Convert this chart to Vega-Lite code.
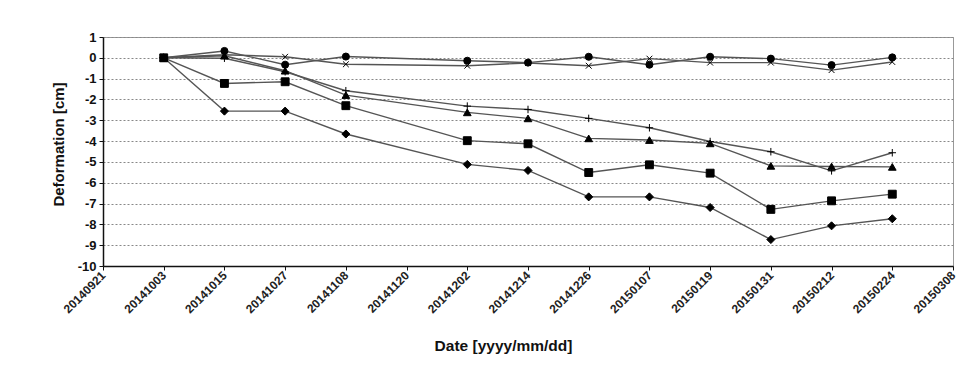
{
  "$schema": "https://vega.github.io/schema/vega-lite/v6.json",
  "autosize": "none",
  "width": 850,
  "height": 229,
  "padding": {"left": 103, "top": 37, "right": 11, "bottom": 99},
  "background": "white",
  "config": {
    "view": {"stroke": "#999999", "strokeWidth": 1},
    "font": "Liberation Sans"
  },
  "data": {
    "values": [
      {"date": "2014-10-03", "series": "S1", "value": 0},
      {"date": "2014-10-15", "series": "S1", "value": -2.56},
      {"date": "2014-10-27", "series": "S1", "value": -2.56},
      {"date": "2014-11-08", "series": "S1", "value": -3.66},
      {"date": "2014-12-02", "series": "S1", "value": -5.12},
      {"date": "2014-12-14", "series": "S1", "value": -5.41},
      {"date": "2014-12-26", "series": "S1", "value": -6.68},
      {"date": "2015-01-07", "series": "S1", "value": -6.68},
      {"date": "2015-01-19", "series": "S1", "value": -7.19},
      {"date": "2015-01-31", "series": "S1", "value": -8.73},
      {"date": "2015-02-12", "series": "S1", "value": -8.07},
      {"date": "2015-02-24", "series": "S1", "value": -7.73},

      {"date": "2014-10-03", "series": "S2", "value": 0},
      {"date": "2014-10-15", "series": "S2", "value": -1.23},
      {"date": "2014-10-27", "series": "S2", "value": -1.15},
      {"date": "2014-11-08", "series": "S2", "value": -2.3},
      {"date": "2014-12-02", "series": "S2", "value": -3.98},
      {"date": "2014-12-14", "series": "S2", "value": -4.13},
      {"date": "2014-12-26", "series": "S2", "value": -5.51},
      {"date": "2015-01-07", "series": "S2", "value": -5.14},
      {"date": "2015-01-19", "series": "S2", "value": -5.54},
      {"date": "2015-01-31", "series": "S2", "value": -7.28},
      {"date": "2015-02-12", "series": "S2", "value": -6.87},
      {"date": "2015-02-24", "series": "S2", "value": -6.55},

      {"date": "2014-10-03", "series": "S3", "value": 0},
      {"date": "2014-10-15", "series": "S3", "value": 0.1},
      {"date": "2014-10-27", "series": "S3", "value": -0.62},
      {"date": "2014-11-08", "series": "S3", "value": -1.79},
      {"date": "2014-12-02", "series": "S3", "value": -2.62},
      {"date": "2014-12-14", "series": "S3", "value": -2.91},
      {"date": "2014-12-26", "series": "S3", "value": -3.87},
      {"date": "2015-01-07", "series": "S3", "value": -3.95},
      {"date": "2015-01-19", "series": "S3", "value": -4.11},
      {"date": "2015-01-31", "series": "S3", "value": -5.19},
      {"date": "2015-02-12", "series": "S3", "value": -5.22},
      {"date": "2015-02-24", "series": "S3", "value": -5.24},

      {"date": "2014-10-03", "series": "S4", "value": 0},
      {"date": "2014-10-15", "series": "S4", "value": -0.02},
      {"date": "2014-10-27", "series": "S4", "value": -0.67},
      {"date": "2014-11-08", "series": "S4", "value": -1.58},
      {"date": "2014-12-02", "series": "S4", "value": -2.32},
      {"date": "2014-12-14", "series": "S4", "value": -2.48},
      {"date": "2014-12-26", "series": "S4", "value": -2.91},
      {"date": "2015-01-07", "series": "S4", "value": -3.36},
      {"date": "2015-01-19", "series": "S4", "value": -4.02},
      {"date": "2015-01-31", "series": "S4", "value": -4.51},
      {"date": "2015-02-12", "series": "S4", "value": -5.43},
      {"date": "2015-02-24", "series": "S4", "value": -4.56},

      {"date": "2014-10-03", "series": "S5", "value": 0},
      {"date": "2014-10-15", "series": "S5", "value": 0.15},
      {"date": "2014-10-27", "series": "S5", "value": 0.05},
      {"date": "2014-11-08", "series": "S5", "value": -0.31},
      {"date": "2014-12-02", "series": "S5", "value": -0.38},
      {"date": "2014-12-14", "series": "S5", "value": -0.25},
      {"date": "2014-12-26", "series": "S5", "value": -0.38},
      {"date": "2015-01-07", "series": "S5", "value": -0.04},
      {"date": "2015-01-19", "series": "S5", "value": -0.23},
      {"date": "2015-01-31", "series": "S5", "value": -0.23},
      {"date": "2015-02-12", "series": "S5", "value": -0.59},
      {"date": "2015-02-24", "series": "S5", "value": -0.2},

      {"date": "2014-10-03", "series": "S6", "value": 0},
      {"date": "2014-10-15", "series": "S6", "value": 0.33},
      {"date": "2014-10-27", "series": "S6", "value": -0.33},
      {"date": "2014-11-08", "series": "S6", "value": 0.06},
      {"date": "2014-12-02", "series": "S6", "value": -0.14},
      {"date": "2014-12-14", "series": "S6", "value": -0.23},
      {"date": "2014-12-26", "series": "S6", "value": 0.05},
      {"date": "2015-01-07", "series": "S6", "value": -0.33},
      {"date": "2015-01-19", "series": "S6", "value": 0.05},
      {"date": "2015-01-31", "series": "S6", "value": -0.04},
      {"date": "2015-02-12", "series": "S6", "value": -0.35},
      {"date": "2015-02-24", "series": "S6", "value": 0.02}
    ]
  },
  "encoding": {
    "x": {
      "field": "date",
      "type": "temporal",
      "scale": {
        "type": "utc",
        "domain": [
          {"year": 2014, "month": 9, "date": 21, "utc": true},
          {"year": 2015, "month": 3, "date": 8, "utc": true}
        ],
        "nice": false
      },
      "axis": {
        "values": [
          {"year": 2014, "month": 9, "date": 21, "utc": true},
          {"year": 2014, "month": 10, "date": 3, "utc": true},
          {"year": 2014, "month": 10, "date": 15, "utc": true},
          {"year": 2014, "month": 10, "date": 27, "utc": true},
          {"year": 2014, "month": 11, "date": 8, "utc": true},
          {"year": 2014, "month": 11, "date": 20, "utc": true},
          {"year": 2014, "month": 12, "date": 2, "utc": true},
          {"year": 2014, "month": 12, "date": 14, "utc": true},
          {"year": 2014, "month": 12, "date": 26, "utc": true},
          {"year": 2015, "month": 1, "date": 7, "utc": true},
          {"year": 2015, "month": 1, "date": 19, "utc": true},
          {"year": 2015, "month": 1, "date": 31, "utc": true},
          {"year": 2015, "month": 2, "date": 12, "utc": true},
          {"year": 2015, "month": 2, "date": 24, "utc": true},
          {"year": 2015, "month": 3, "date": 8, "utc": true}
        ],
        "labelExpr": "utcFormat(datum.value, '%Y%m%d')",
        "labelAngle": -45,
        "labelAlign": "right",
        "labelBaseline": "middle",
        "labelFontSize": 12,
        "labelFontWeight": "bold",
        "labelColor": "#222222",
        "labelPadding": 3,
        "labelOverlap": false,
        "labelFlush": false,
        "grid": false,
        "domainColor": "#111111",
        "domainWidth": 1.5,
        "tickColor": "#111111",
        "tickSize": 4,
        "title": "Date [yyyy/mm/dd]",
        "titleFontSize": 15.5,
        "titleFontWeight": "bold",
        "titleColor": "#111111",
        "titleX": 400,
        "titleY": 72,
        "titleBaseline": "top"
      }
    },
    "y": {
      "field": "value",
      "type": "quantitative",
      "scale": {"domain": [-10, 1], "nice": false, "zero": false},
      "axis": {
        "values": [-10, -9, -8, -7, -6, -5, -4, -3, -2, -1, 0, 1],
        "labelExpr": "'' + datum.value",
        "labelFontSize": 13,
        "labelFontWeight": "bold",
        "labelColor": "#111111",
        "labelPadding": 3,
        "grid": true,
        "gridDash": [2, 2],
        "gridColor": "#888888",
        "gridWidth": 1,
        "domainColor": "#111111",
        "domainWidth": 1.5,
        "tickColor": "#111111",
        "tickSize": 4,
        "title": "Deformation [cm]",
        "titleFontSize": 15,
        "titleFontWeight": "bold",
        "titleColor": "#111111",
        "titleX": -37,
        "titleY": 107
      }
    }
  },
  "layer": [
    {
      "mark": {"type": "line", "color": "#555555", "strokeWidth": 1.4},
      "encoding": {"detail": {"field": "series"}}
    },
    {
      "mark": {"type": "point", "fill": "black", "stroke": "black", "strokeWidth": 1, "opacity": 1},
      "encoding": {
        "shape": {
          "field": "series",
          "type": "nominal",
          "scale": {
            "domain": ["S1", "S2", "S3", "S4", "S5", "S6"],
            "range": ["diamond", "square", "triangle-up", "M-1,0L1,0M0,-1L0,1", "M-0.8,-0.8L0.8,0.8M-0.8,0.8L0.8,-0.8", "circle"]
          },
          "legend": null
        },
        "size": {
          "field": "series",
          "type": "nominal",
          "scale": {
            "domain": ["S1", "S2", "S3", "S4", "S5", "S6"],
            "range": [65, 50, 48, 90, 80, 55]
          },
          "legend": null
        }
      }
    }
  ]
}
